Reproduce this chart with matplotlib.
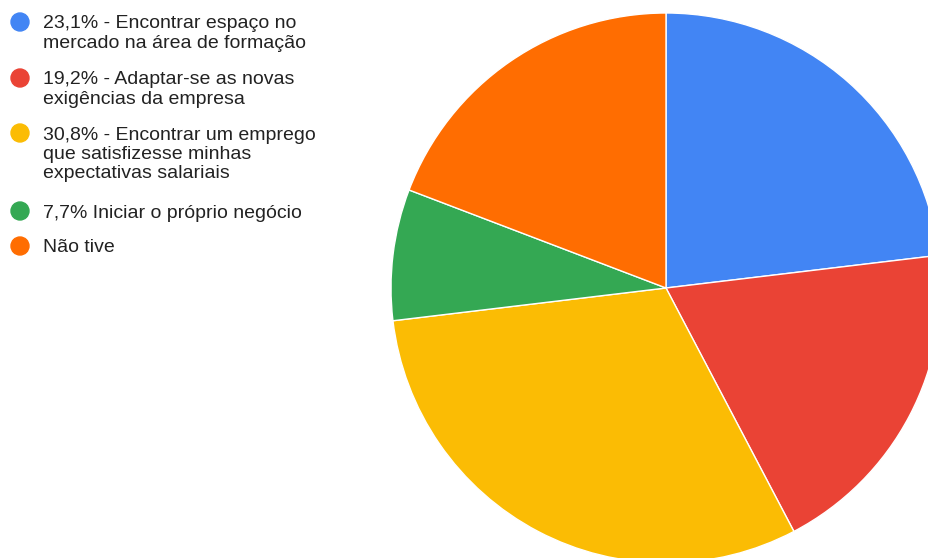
import matplotlib.pyplot as plt
from matplotlib.patches import Circle

# slice shares in percent, clockwise from 12 o'clock
labels = [
    "23,1% - Encontrar espaço no\nmercado na área de formação",
    "19,2% - Adaptar-se as novas\nexigências da empresa",
    "30,8% - Encontrar um emprego\nque satisfizesse minhas\nexpectativas salariais",
    "7,7% Iniciar o próprio negócio",
    "Não tive",
]
values = [23.1, 19.2, 30.8, 7.7, 19.2]
colors = ["#4285f4", "#ea4335", "#fbbc04", "#34a853", "#ff6d01"]

W, H = 929, 558
fig = plt.figure(figsize=(W / 100, H / 100), dpi=100)
ax = fig.add_axes([0, 0, 1, 1])

# pie drawn in pixel-like data units so it can run off the edges
ax.pie(values, colors=colors, startangle=90, counterclock=False,
       center=(666, H - 288), radius=275,
       wedgeprops=dict(edgecolor="white", linewidth=1))
ax.set_xlim(0, W)
ax.set_ylim(0, H)
ax.set_aspect("auto")
ax.axis("off")

# legend: coloured dots with wrapped labels
marker_y = [22, 78, 133, 211, 246]
for label, color, y in zip(labels, colors, marker_y):
    ax.add_patch(Circle((20, H - y), 9, color=color, clip_on=False))
    ax.text(43, H - y + 6.5, label, ha="left", va="top",
            fontsize=14, family=["Liberation Sans", "DejaVu Sans"],
            color="#222222", linespacing=1.17)

fig.savefig("out.png", dpi=100)
